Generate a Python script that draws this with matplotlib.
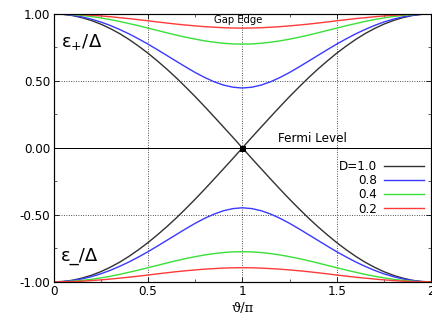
import numpy as np
import matplotlib
matplotlib.use("Agg")
import matplotlib.pyplot as plt
from matplotlib.ticker import MultipleLocator, FormatStrFormatter

plt.rcParams['axes.unicode_minus'] = False

# theta/pi from 0 to 1 (curves are mirrored about theta/pi = 1)
x_half = [0.00, 0.05, 0.10, 0.15, 0.20, 0.25, 0.30, 0.35, 0.40, 0.45, 0.50,
          0.55, 0.60, 0.65, 0.70, 0.75, 0.80, 0.85, 0.90, 0.95, 1.00]

# upper branch eps+/Delta, one list per transmission D
eps_d10 = [1.000, 0.997, 0.988, 0.972, 0.951, 0.924, 0.891, 0.853, 0.809, 0.760, 0.707,
           0.649, 0.588, 0.523, 0.454, 0.383, 0.309, 0.233, 0.156, 0.079, 0.000]
eps_d08 = [1.000, 0.998, 0.990, 0.978, 0.961, 0.940, 0.914, 0.884, 0.851, 0.814, 0.775,
           0.733, 0.690, 0.647, 0.604, 0.563, 0.526, 0.494, 0.469, 0.453, 0.447]
eps_d04 = [1.000, 0.999, 0.995, 0.989, 0.981, 0.970, 0.958, 0.944, 0.928, 0.912, 0.894,
           0.877, 0.859, 0.842, 0.826, 0.812, 0.799, 0.789, 0.781, 0.776, 0.775]
eps_d02 = [1.000, 0.999, 0.998, 0.995, 0.990, 0.985, 0.979, 0.972, 0.965, 0.957, 0.949,
           0.940, 0.932, 0.924, 0.917, 0.911, 0.905, 0.901, 0.897, 0.895, 0.894]

labels = ["D=1.0", "0.8", "0.4", "0.2"]
colors = ["#333333", "#3a3aff", "#3ae03a", "#ff3a3a"]


def mirror(v):
    v = np.asarray(v)
    return np.concatenate([v, v[-2::-1]])


x = np.concatenate([np.asarray(x_half), 2 - np.asarray(x_half)[-2::-1]])

fig = plt.figure(figsize=(6, 4.5), dpi=72)
ax = fig.add_axes([0.124, 0.130, 0.874, 0.827])

for eps, lab, c in zip([eps_d10, eps_d08, eps_d04, eps_d02], labels, colors):
    y = mirror(eps)
    ax.plot(x, y, color=c, lw=1.4, label=lab)
    ax.plot(x, -y, color=c, lw=1.4)

ax.axhline(0, color="black", lw=1.0)
ax.plot([1], [0], "s", color="black", ms=5)

ax.set_xlim(0, 2)
ax.set_ylim(-1, 1)
ax.xaxis.set_major_locator(MultipleLocator(0.5))
ax.xaxis.set_minor_locator(MultipleLocator(0.25))
ax.yaxis.set_major_locator(MultipleLocator(0.5))
ax.yaxis.set_minor_locator(MultipleLocator(0.25))
ax.xaxis.set_major_formatter(FormatStrFormatter('%g'))
ax.yaxis.set_major_formatter(FormatStrFormatter('%.2f'))
ax.tick_params(which="both", direction="in", top=True, right=True, labelsize=12)
ax.tick_params(which="major", length=5)
ax.tick_params(which="minor", length=3)
ax.grid(True, which="major", color="black", ls=(0, (1, 2)), lw=0.8)
for s in ax.spines.values():
    s.set_linewidth(1.2)

ax.set_xlabel("ϑ/π", fontsize=13, family="DejaVu Serif", labelpad=4)

ax.text(0.04, 0.79, "ε$_{+}$/Δ", fontsize=18, va="center", ha="left")
ax.text(0.04, -0.81, "ε_/Δ", fontsize=18, va="center", ha="left")
ax.text(0.98, 0.952, "Gap Edge", fontsize=10, ha="center", va="center")
ax.text(1.19, 0.025, "Fermi Level", fontsize=12, ha="left", va="bottom")

ax.legend(loc="upper right", bbox_to_anchor=(1.0, 0.482), frameon=False,
          markerfirst=False, fontsize=12, handlelength=3.3,
          handletextpad=0.6, labelspacing=0.1, borderaxespad=0.2)

fig.savefig("out.png", dpi=72)
